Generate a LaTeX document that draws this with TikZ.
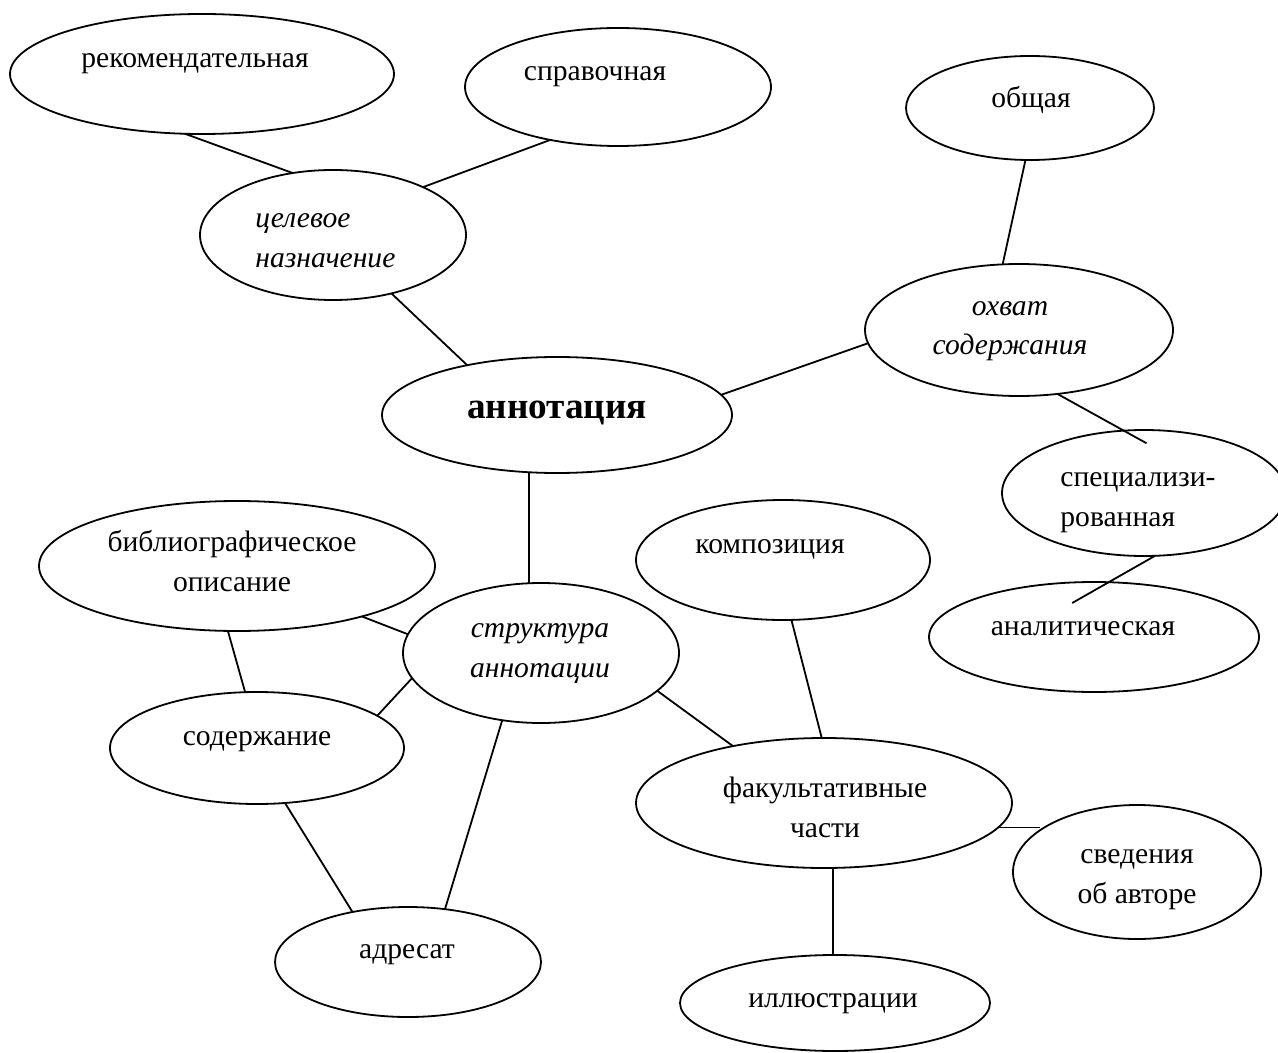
\documentclass[tikz,border=0pt]{standalone}
\usepackage{fontspec}
\setmainfont{Liberation Serif}
\usetikzlibrary{shapes.geometric}

\tikzset{
  oval/.style={draw, ellipse, line width=0.9pt, inner sep=0pt, outer sep=0pt},
  word/.style={font=\fontsize{14.8}{20}\selectfont, inner sep=0pt, anchor=base, align=center},
  slanted/.style={word, font=\fontsize{14.8}{20}\selectfont\itshape},
  link/.style={line width=0.9pt}
}

\begin{document}
\begin{tikzpicture}[x=0.5pt, y=-0.5pt]
\useasboundingbox (0,0) rectangle (1278,1053);

\node[oval, minimum width=192pt, minimum height=60pt] (rek) at (202,74) {};
\node[oval, minimum width=153pt, minimum height=59pt] (spr) at (618,87) {};
\node[oval, minimum width=124pt, minimum height=52pt] (obsh) at (1030,108) {};
\node[oval, minimum width=133pt, minimum height=65pt] (cel) at (333,235) {};
\node[oval, minimum width=154pt, minimum height=66pt] (ohv) at (1019,330) {};
\node[oval, minimum width=175pt, minimum height=58pt] (ann) at (557,415) {};
\node[oval, minimum width=142pt, minimum height=63pt] (spec) at (1144,493) {};
\node[oval, minimum width=198pt, minimum height=65pt] (bib) at (237,566) {};
\node[oval, minimum width=147pt, minimum height=60pt] (komp) at (783,560) {};
\node[oval, minimum width=138pt, minimum height=70pt] (str) at (541,653) {};
\node[oval, minimum width=165pt, minimum height=55pt] (anal) at (1094,637) {};
\node[oval, minimum width=147pt, minimum height=56pt] (sod) at (257,748) {};
\node[oval, minimum width=188pt, minimum height=65pt] (fak) at (824,803) {};
\node[oval, minimum width=124pt, minimum height=67pt] (sved) at (1137,872) {};
\node[oval, minimum width=133pt, minimum height=55pt] (adr) at (408,962) {};
\node[oval, minimum width=155pt, minimum height=48pt] (ill) at (835,1003) {};

% multi-line texts sit on the baseline of their last line
\node[word] (rek-t) at (195,68) {рекомендательная};
\node[word] (spr-t) at (595,81) {справочная};
\node[word] (obsh-t) at (1031,108) {общая};
\node[slanted, anchor=base west, align=left] (cel-t) at (255,268) {целевое\\назначение};
\node[slanted] (ohv-t) at (1010,355) {охват\\содержания};
\node[word, font=\fontsize{18.6}{20}\selectfont\bfseries] (ann-t) at (557,418) {аннотация};
\node[word, anchor=base west, align=left] (spec-t) at (1060,526) {специализи-\\рованная};
\node[word] (bib-t) at (232,591) {библиографическое\\описание};
\node[word] (komp-t) at (770,553) {композиция};
\node[slanted] (str-t) at (540,677) {структура\\аннотации};
\node[word] (anal-t) at (1083,635) {аналитическая};
\node[word] (sod-t) at (257,745) {содержание};
\node[word] (fak-t) at (825,837) {факультативные\\части};
\node[word] (sved-t) at (1137,903) {сведения\\об авторе};
\node[word] (adr-t) at (407,958) {адресат};
\node[word] (ill-t) at (833,1007) {иллюстрации};

\draw[link] (rek.-106) -- (cel.123);
\draw[link] (cel.28) -- (spr.-142);
\draw[link] (obsh.-95) -- (ohv.104);
\draw[link] (cel.-45) -- (ann.151);
\draw[link] (ann.7) -- (ohv.185);
\draw[link, shorten >=-13pt] (ohv.-59) -- (spec.108);
\draw[link, shorten >=-21pt] (spec.-80) -- (anal.75);
\draw[link] (ann.-116) -- (ann.-116 |- str.north);
\draw[link] (bib.-22) -- (str.172);
\draw[link] (bib.-98) -- (sod.102);
\draw[link] (sod.15) -- (str.191);
\draw[link] (str.-18) -- (fak.148);
\draw[link] (komp.-82) -- (fak.92);
\draw[link] (sod.-63) -- (adr.138);
\draw[link] (str.-120) -- (adr.55);
\draw[link] (fak.-8) -- (fak.-8 -| sved.157);
\draw[link] (fak.-82) -- (fak.-82 |- ill.north);
\end{tikzpicture}
\end{document}
